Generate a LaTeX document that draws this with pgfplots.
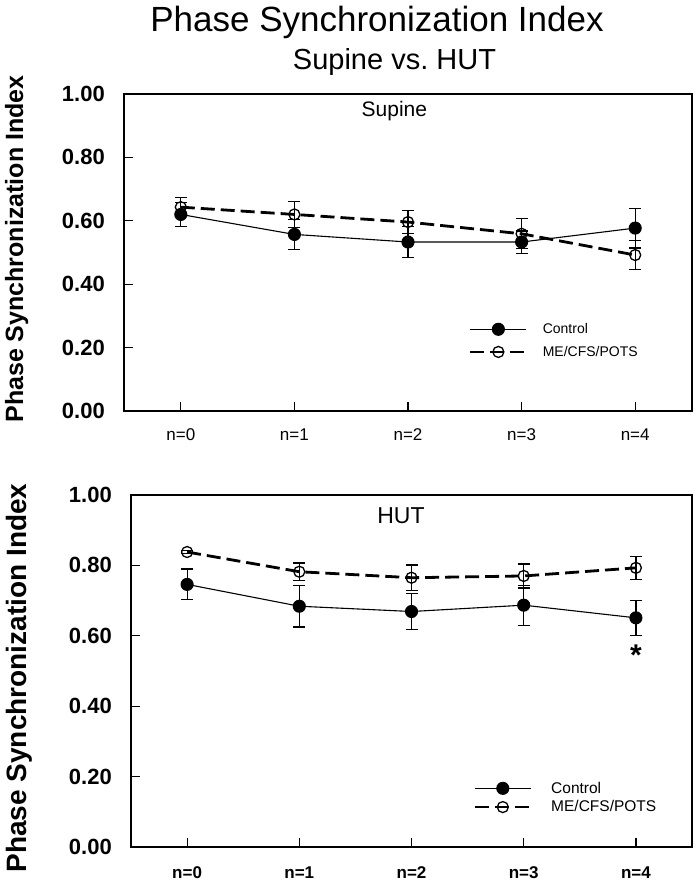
\documentclass[border=0pt]{standalone}
\usepackage{fontspec}
\setmainfont{Liberation Sans}
\usepackage{pgfplots}
\pgfplotsset{compat=1.18}
\newcommand{\fs}[1]{\fontsize{#1}{#1}\selectfont}
\pgfplotsset{
  psi/.style={
    scale only axis,
    xmin=-0.5, xmax=4.5, ymin=0, ymax=1,
    xtick={0,1,2,3,4},
    xticklabels={n=0,n=1,n=2,n=3,n=4},
    ytick={0,0.2,0.4,0.6,0.8,1},
    yticklabel={\pgfmathprintnumber[fixed,fixed zerofill,precision=2,assume math mode=true]{\tick}},
    tick align=inside, xtick pos=bottom, ytick pos=left,
    major tick length=9pt,
    tick style={black, line width=1.2pt},
    axis line style={line width=1.3pt},
    yticklabel style={font=\fs{22}\bfseries, inner sep=0pt, xshift=-19pt},
    legend cell align=left,
    legend image code/.code={\draw[mark repeat=2,mark phase=2,##1] plot coordinates {(0pt,0pt) (28pt,0pt) (56pt,0pt)};},
  },
  ctrl/.style={black, line width=1.1pt, mark=*, mark size=6pt, mark options={solid},
    error bars/.cd, y dir=both, y explicit,
    error mark options={rotate=90, mark size=6pt, line width=1.2pt, solid},
    error bar style={line width=1.2pt, solid}},
  mecfs/.style={black, line width=2.8pt, dash pattern=on 14pt off 6pt, mark=o, mark size=5.5pt,
    mark options={solid, line width=1.3pt},
    error bars/.cd, y dir=both, y explicit,
    error mark options={rotate=90, mark size=6pt, line width=1.2pt, solid},
    error bar style={line width=1.2pt, solid}},
}
\begin{document}
\begin{tikzpicture}
\useasboundingbox (0,0) rectangle (700pt,882pt);
\node[anchor=base, font=\fs{35}] at (377pt,850pt) {Phase Synchronization Index};
\node[anchor=base, font=\fs{29}] at (394.5pt,812pt) {Supine vs.\ HUT};
\node[rotate=90, anchor=base, font=\fs{25}\bfseries] at (23pt,633pt) {Phase Synchronization Index};
\node[rotate=90, anchor=base, font=\fs{28}\bfseries] at (26pt,204pt) {Phase Synchronization Index};

\begin{axis}[psi, at={(124pt,471pt)}, anchor=south west, width=568pt, height=317pt,
  xticklabel style={font=\fs{17}, inner sep=0pt, anchor=base, yshift=-30pt},
  legend style={at={(0.607,0.222)}, anchor=west, draw=none, fill=none, font=\fs{14},
    inner sep=0pt, row sep=9pt, column sep=14pt, nodes={inner sep=1pt}}]
\addplot[ctrl] table[x=x, y=y, y error=e] {
x y e
0 0.620 0.038
1 0.557 0.048
2 0.533 0.048
3 0.533 0.035
4 0.577 0.063
};
\addplot[mecfs] table[x=x, y=y, y error=e] {
x y e
0 0.643 0.030
1 0.620 0.042
2 0.596 0.036
3 0.559 0.047
4 0.492 0.046
};
\legend{Control, ME/CFS/POTS}
\node[font=\fs{21}] at (axis cs:1.88,0.946) {Supine};
\end{axis}

\begin{axis}[psi, at={(131pt,35pt)}, anchor=south west, width=561pt, height=352pt,
  xticklabel style={font=\fs{17}\bfseries, inner sep=0pt, anchor=base, yshift=-32pt},
  legend style={at={(0.610,0.140)}, anchor=west, draw=none, fill=none, font=\fs{15.5},
    inner sep=0pt, row sep=4pt, column sep=18pt, nodes={inner sep=1pt}}]
\addplot[ctrl] table[x=x, y=y, y error=e] {
x y e
0 0.746 0.044
1 0.684 0.059
2 0.669 0.052
3 0.687 0.057
4 0.651 0.050
};
\addplot[mecfs] table[x=x, y=y, y error=e] {
x y e
0 0.838 0.005
1 0.782 0.025
2 0.765 0.036
3 0.770 0.034
4 0.793 0.032
};
\legend{Control, ME/CFS/POTS}
\node[font=\fs{23}] at (axis cs:1.906,0.940) {HUT};
\node[font=\fs{30}\bfseries] at (axis cs:4,0.546) {*};
\end{axis}
\end{tikzpicture}
\end{document}
